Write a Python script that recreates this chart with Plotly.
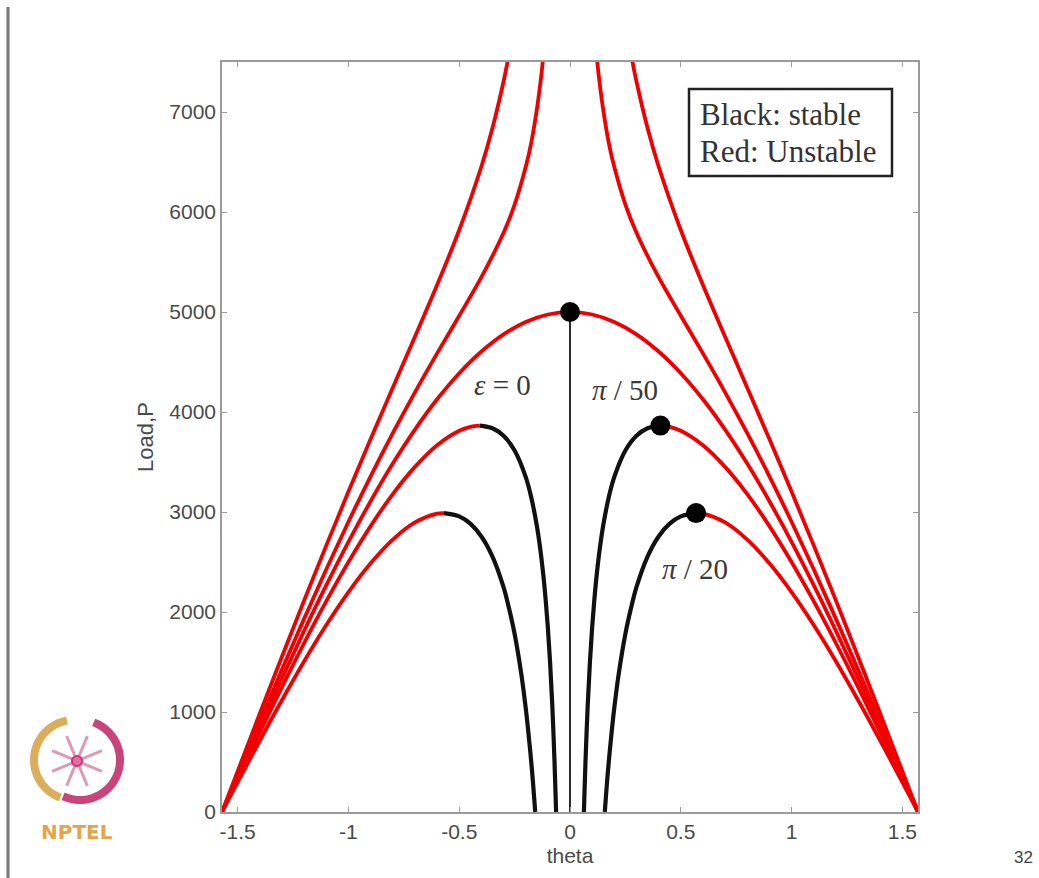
import math
import plotly.graph_objects as go

# ---------------- data ----------------
# perfect system (eps = 0): unstable red branch, symmetric about theta = 0
theta_e0 = [0.0, 0.1, 0.2, 0.3, 0.4, 0.5, 0.6, 0.7, 0.8, 0.9, 1.0, 1.1, 1.2, 1.3, 1.4, 1.5, 1.5708]
load_e0 = [5000, 4975, 4900, 4777, 4605, 4388, 4127, 3824, 3484, 3108, 2702, 2268, 1812, 1338, 850, 354, 0]
# stable trivial path of the perfect system
theta_trivial = [0.0, 0.0]
load_trivial = [0, 5000]

# eps = pi/50 : stable (black) part of the lower branch
theta_50_stable = [0.0628, 0.065, 0.07, 0.08, 0.09, 0.1, 0.11, 0.12, 0.135, 0.15, 0.175, 0.2, 0.25, 0.3, 0.35, 0.408]
load_50_stable = [0, 166, 510, 1068, 1501, 1846, 2126, 2360, 2642, 2866, 3148, 3351, 3615, 3762, 3837, 3864]
# eps = pi/50 : unstable (red) part of the lower branch
theta_50_unstable = [0.408, 0.45, 0.5, 0.6, 0.7, 0.8, 0.9, 1.0, 1.1, 1.2, 1.3, 1.4, 1.5, 1.5708]
load_50_unstable = [3864, 3852, 3813, 3668, 3451, 3179, 2859, 2500, 2108, 1690, 1250, 796, 331, 0]
# eps = pi/50 : upper (red) branch on the opposite side
theta_50_upper = [0.115, 0.12, 0.13, 0.15, 0.175, 0.2, 0.25, 0.3, 0.4, 0.5, 0.6, 0.7, 0.8, 0.9, 1.0, 1.1, 1.2, 1.3, 1.4, 1.5, 1.5708]
load_50_upper = [7685, 7568, 7359, 7021, 6692, 6449, 6074, 5792, 5348, 4963, 4586, 4197, 3788, 3357, 2903, 2428, 1934, 1425, 904, 376, 0]

# eps = pi/20 : stable (black) part of the lower branch
theta_20_stable = [0.1571, 0.16, 0.165, 0.17, 0.18, 0.19, 0.2, 0.22, 0.25, 0.275, 0.3, 0.35, 0.4, 0.45, 0.5, 0.569]
load_20_stable = [0, 90, 235, 375, 621, 842, 1042, 1382, 1781, 2034, 2248, 2554, 2755, 2883, 2956, 2989]
# eps = pi/20 : unstable (red) part of the lower branch
theta_20_unstable = [0.569, 0.6, 0.7, 0.8, 0.9, 1.0, 1.1, 1.2, 1.3, 1.4, 1.5, 1.5708]
load_20_unstable = [2989, 2983, 2896, 2724, 2487, 2199, 1870, 1508, 1120, 715, 298, 0]
# eps = pi/20 : upper (red) branch on the opposite side
theta_20_upper = [0.27, 0.28, 0.3, 0.35, 0.4, 0.5, 0.6, 0.7, 0.8, 0.9, 1.0, 1.1, 1.2, 1.3, 1.4, 1.5, 1.5708]
load_20_upper = [7645, 7525, 7305, 6840, 6455, 5820, 5270, 4753, 4243, 3729, 3204, 2666, 2116, 1555, 985, 409, 0]

# critical points (black dots)
theta_crit = [0.0, 0.408, 0.569]
load_crit = [5000, 3864, 2989]

x_ticks = [-1.5, -1, -0.5, 0, 0.5, 1, 1.5]
x_tick_text = ["-1.5", "-1", "-0.5", "0", "0.5", "1", "1.5"]
y_ticks = [0, 1000, 2000, 3000, 4000, 5000, 6000, 7000]
y_tick_text = ["0", "1000", "2000", "3000", "4000", "5000", "6000", "7000"]

# ---------------- figure ----------------
RED = "#f00000"
BLACK = "#111111"
fig = go.Figure()


def add_line(x, y, color, width):
    fig.add_trace(go.Scatter(x=x, y=y, mode="lines",
                             line=dict(color=color, width=width, shape="spline", smoothing=1.0),
                             hoverinfo="skip", showlegend=False))


def neg(v):
    return [-t for t in v]


# eps = 0 red curve over both sides
add_line(neg(theta_e0[::-1]) + theta_e0[1:], load_e0[::-1] + load_e0[1:], RED, 3.8)
# trivial path
fig.add_trace(go.Scatter(x=theta_trivial, y=load_trivial, mode="lines",
                         line=dict(color="#2a2a2a", width=2), hoverinfo="skip", showlegend=False))

for th, ld in [(theta_50_upper, load_50_upper), (theta_20_upper, load_20_upper),
               (theta_50_unstable, load_50_unstable), (theta_20_unstable, load_20_unstable)]:
    add_line(th, ld, RED, 3.8)
    add_line(neg(th), ld, RED, 3.8)

for th, ld in [(theta_50_stable, load_50_stable), (theta_20_stable, load_20_stable)]:
    add_line(th, ld, BLACK, 4.2)
    add_line(neg(th), ld, BLACK, 4.2)

fig.add_trace(go.Scatter(x=theta_crit, y=load_crit, mode="markers",
                         marker=dict(color="black", size=20), hoverinfo="skip", showlegend=False))

W, H = 1039, 878
L, R, T, B = 222, 918, 62, 812


def px(x):
    return (x - L) / (R - L)


def py(y):
    return (B - y) / (B - T)


axis_common = dict(showline=True, linecolor="#9a9a9a", linewidth=1.5, mirror="ticks",
                   ticks="inside", ticklen=5, tickcolor="#9a9a9a", showgrid=False, zeroline=False,
                   tickfont=dict(family="Arial, Liberation Sans", size=21, color="#4a4a4a"))

fig.update_layout(
    width=W, height=H,
    margin=dict(l=L, r=W - R, t=T, b=H - B),
    paper_bgcolor="white", plot_bgcolor="white",
    xaxis=dict(range=[-1.5708, 1.5708], tickvals=x_ticks, ticktext=x_tick_text,
               title=dict(text="theta", font=dict(family="Arial, Liberation Sans", size=21, color="#4a4a4a"),
                          standoff=6), **axis_common),
    yaxis=dict(range=[0, 7500], tickvals=y_ticks, ticktext=y_tick_text,
               title=dict(text="Load,P", font=dict(family="Arial, Liberation Sans", size=22, color="#4a4a4a"),
                          standoff=10), **axis_common),
)

serif = "Liberation Serif, Times New Roman, serif"
ann = [
    dict(x=px(502), y=py(385), text="<i>ε</i> = 0", size=29),
    dict(x=px(625), y=py(390), text="<i>π</i> / 50", size=29),
    dict(x=px(695), y=py(569), text="<i>π</i> / 20", size=29),
]
for a in ann:
    fig.add_annotation(x=a["x"], y=a["y"], xref="paper", yref="paper", text=a["text"],
                       showarrow=False, font=dict(family=serif, size=a["size"], color="#3a3a3a"),
                       xanchor="center", yanchor="middle")

# stability key box
fig.add_shape(type="rect", xref="paper", yref="paper", x0=px(689), x1=px(892), y0=py(176), y1=py(89),
              line=dict(color="#222", width=2.5), fillcolor="white", layer="above")
fig.add_annotation(x=px(698), y=py(114), xref="paper", yref="paper", text="Black: stable",
                   showarrow=False, xanchor="left", yanchor="middle",
                   font=dict(family=serif, size=31, color="#333"))
fig.add_annotation(x=px(698), y=py(151), xref="paper", yref="paper", text="Red: Unstable",
                   showarrow=False, xanchor="left", yanchor="middle",
                   font=dict(family=serif, size=31, color="#333"))

# slide decorations: page number, left border line, NPTEL mark
fig.add_annotation(x=px(1023), y=py(857), xref="paper", yref="paper", text="32", showarrow=False,
                   xanchor="center", yanchor="middle",
                   font=dict(family="Arial", size=17, color="#444"))
fig.add_shape(type="line", xref="paper", yref="paper", x0=px(8), x1=px(8), y0=py(7), y1=py(878),
              line=dict(color="#777", width=3))
fig.add_annotation(x=px(77), y=py(832), xref="paper", yref="paper", text="<b>NPTEL</b>", showarrow=False,
                   xanchor="center", yanchor="middle",
                   font=dict(family="DejaVu Sans", size=20, color="#e5a446"))


def arc_path(cx, cy, r, a0, a1, n=40):
    pts = []
    for i in range(n + 1):
        a = math.radians(a0 + (a1 - a0) * i / n)
        pts.append((px(cx + r * math.cos(a)), py(cy - r * math.sin(a))))
    return "M " + " L ".join(f"{x:.5f},{y:.5f}" for x, y in pts)


fig.add_shape(type="path", xref="paper", yref="paper", path=arc_path(74, 760, 40, 100, 250),
              line=dict(color="#dcae5c", width=8))
fig.add_shape(type="path", xref="paper", yref="paper", path=arc_path(80, 760, 40, -115, 70),
              line=dict(color="#c8447a", width=8))
for k in range(4):
    a = math.radians(k * 45 + 22.5)
    fig.add_shape(type="line", xref="paper", yref="paper",
                  x0=px(77 - 27 * math.cos(a)), x1=px(77 + 27 * math.cos(a)),
                  y0=py(761 + 27 * math.sin(a)), y1=py(761 - 27 * math.sin(a)),
                  line=dict(color="#dc9ab4", width=3))
fig.add_shape(type="circle", xref="paper", yref="paper", x0=px(72), x1=px(82), y0=py(766), y1=py(756),
              line=dict(color="#d0307a", width=2), fillcolor="#e070a0")

fig.write_html("out.html")
